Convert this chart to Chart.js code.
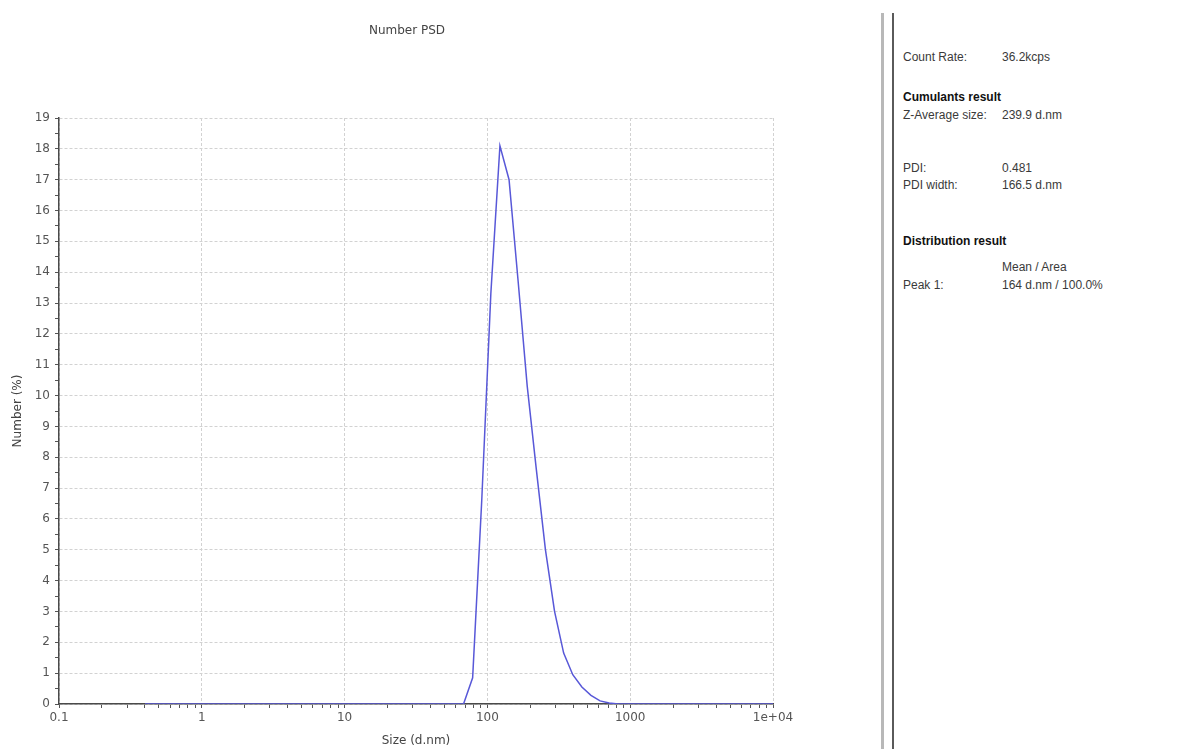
<!DOCTYPE html>
<html>
<head>
<meta charset="utf-8">
<script src="https://cdn.jsdelivr.net/npm/chart.js@4/dist/chart.umd.min.js"></script>
<style>
  html, body { margin: 0; padding: 0; background: #fff; width: 1190px; height: 749px; overflow: hidden; }
  #wrap { position: absolute; left: 0; top: 0; width: 870px; height: 749px; }
  .sep1 { position: absolute; left: 881px; top: 13px; width: 3px; bottom: 0; background: #b8b8b8; }
  .sep2 { position: absolute; left: 892px; top: 13px; width: 2px; bottom: 0; background: #5a5a5a; }
  .t { position: absolute; font-family: "Liberation Sans", Arial, sans-serif; font-size: 12px; line-height: 14px; color: #3a3a3a; white-space: nowrap; }
  .b { font-weight: bold; color: #111; }
</style>
</head>
<body>
<div id="wrap"><canvas id="c" width="870" height="749"></canvas></div>
<div class="sep1"></div>
<div class="sep2"></div>
<div id="panel"></div>
<script>
// ---- data ----
const sizes = [0.4, 68.06, 78.82, 91.28, 105.7, 122.4, 141.8, 164.2, 190.1, 220.2, 255.0, 295.3, 342.0, 396.1, 458.7, 531.2, 615.1, 712.4, 825.0, 10000];
const numberPct = [0, 0, 0.85, 6.6, 13.3, 18.1, 17.0, 13.7, 10.3, 7.6, 5.0, 3.0, 1.65, 0.95, 0.55, 0.28, 0.1, 0.03, 0, 0];
const xMajorTicks = [0.1, 1, 10, 100, 1000, 10000];
const xTickLabels = ['0.1', '1', '10', '100', '1000', '1e+04'];
const yMin = 0, yMax = 19;
const chartTitle = 'Number PSD';
const xTitle = 'Size (d.nm)';
const yTitle = 'Number (%)';
const panelRows = [
  ['Count Rate:', '36.2kcps', false, 57],
  ['Cumulants result', '', true, 97],
  ['Z-Average size:', '239.9 d.nm', false, 115],
  ['PDI:', '0.481', false, 168],
  ['PDI width:', '166.5 d.nm', false, 185],
  ['Distribution result', '', true, 241],
  ['', 'Mean / Area', false, 267],
  ['Peak 1:', '164 d.nm / 100.0%', false, 285]
];

// ---- right-hand results panel ----
const panel = document.getElementById('panel');
panelRows.forEach(r => {
  if (r[0]) {
    const d = document.createElement('div');
    d.className = 't' + (r[2] ? ' b' : '');
    d.style.left = '903px'; d.style.top = (r[3] - 7) + 'px';
    d.textContent = r[0];
    panel.appendChild(d);
  }
  if (r[1]) {
    const d = document.createElement('div');
    d.className = 't';
    d.style.left = '1002px'; d.style.top = (r[3] - 7) + 'px';
    d.textContent = r[1];
    panel.appendChild(d);
  }
});

// ---- chart ----
const points = sizes.map((s, i) => ({ x: s, y: numberPct[i] }));
const xAllTicks = [];
for (let e = -1; e < 4; e++) {
  for (let m = 1; m < 10; m++) xAllTicks.push(+(m * Math.pow(10, e)).toPrecision(6));
}
xAllTicks.push(10000);
const yAllTicks = [];
for (let v = yMin; v <= yMax; v += 0.5) yAllTicks.push(v);

const isXMajor = v => xMajorTicks.some(t => Math.abs(t - v) / t < 1e-6);
const fontFam = '"DejaVu Sans", "Liberation Sans", sans-serif';

const titlePlugin = {
  id: 'psdTitle',
  afterDraw(chart) {
    const ctx = chart.ctx;
    ctx.save();
    ctx.font = '12px ' + fontFam;
    ctx.fillStyle = '#444';
    ctx.textAlign = 'center';
    ctx.textBaseline = 'middle';
    ctx.fillText(chartTitle, 407, 31);
    ctx.restore();
  }
};

new Chart(document.getElementById('c'), {
  type: 'scatter',
  data: {
    datasets: [{
      data: points,
      showLine: true,
      borderColor: 'rgb(88,88,216)',
      backgroundColor: 'rgb(88,88,216)',
      borderWidth: 1.5,
      pointRadius: 0,
      tension: 0,
      fill: false
    }]
  },
  options: {
    responsive: false,
    animation: false,
    layout: { padding: { top: 118, right: 97, bottom: 0, left: 0 } },
    plugins: { legend: { display: false }, tooltip: { enabled: false }, title: { display: false } },
    scales: {
      x: {
        type: 'logarithmic',
        min: 0.1, max: 10000,
        afterBuildTicks: s => { s.ticks = xAllTicks.map(v => ({ value: v, major: isXMajor(v) })); },
        afterFit: s => { s.height = 45; },
        ticks: {
          autoSkip: false, maxRotation: 0, padding: 3,
          color: '#555', font: { family: fontFam, size: 12 },
          callback: v => { const i = xMajorTicks.findIndex(t => Math.abs(t - v) / t < 1e-6); return i >= 0 ? xTickLabels[i] : ''; }
        },
        grid: {
          color: c => (c.tick && isXMajor(c.tick.value)) ? '#d2d2d2' : 'rgba(0,0,0,0)',
          lineWidth: 1, tickLength: 4, tickColor: '#555', tickWidth: 1
        },
        border: { display: true, color: '#4a4a4a', width: 1.5, dash: [3, 2] },
        title: { display: true, text: xTitle, color: '#444', font: { family: fontFam, size: 12 }, padding: { top: 0, bottom: 1 } }
      },
      y: {
        min: yMin, max: yMax,
        afterBuildTicks: s => { s.ticks = yAllTicks.map(v => ({ value: v, major: Number.isInteger(v) })); },
        afterFit: s => { s.width = 59; },
        ticks: {
          autoSkip: false, padding: 5,
          color: '#555', font: { family: fontFam, size: 12 },
          callback: v => Number.isInteger(v) ? String(v) : ''
        },
        grid: {
          color: c => (c.tick && Number.isInteger(c.tick.value)) ? '#d2d2d2' : 'rgba(0,0,0,0)',
          lineWidth: 1, tickLength: 4, tickColor: '#555', tickWidth: 1
        },
        border: { display: true, color: '#4a4a4a', width: 1.5, dash: [3, 2] },
        title: { display: true, text: yTitle, color: '#444', font: { family: fontFam, size: 12 }, padding: { top: 11, bottom: 0 } }
      }
    }
  },
  plugins: [titlePlugin]
});
</script>
</body>
</html>
